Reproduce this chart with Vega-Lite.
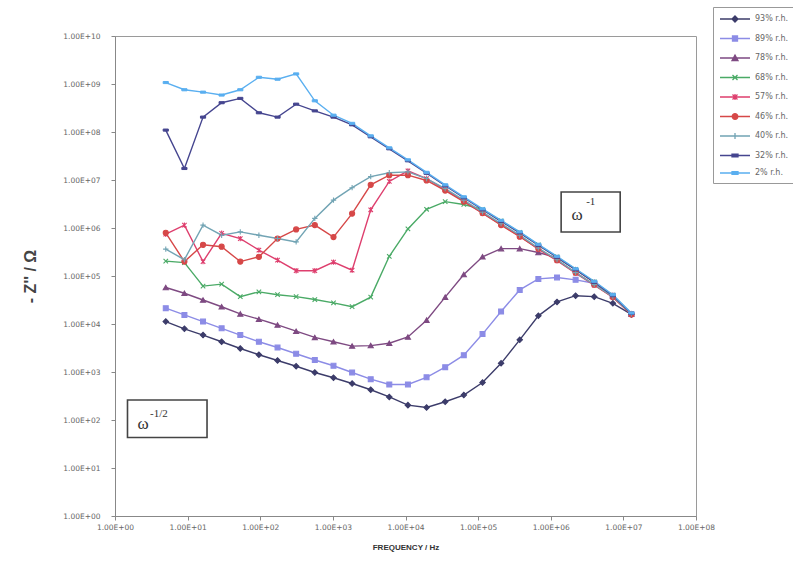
{
  "$schema": "https://vega.github.io/schema/vega-lite/v6.json",
  "width": 581,
  "height": 480,
  "autosize": "none",
  "padding": {"left": 115, "top": 36, "right": 97, "bottom": 48},
  "background": "white",
  "config": {"view": {"stroke": "#9a9a9a", "strokeWidth": 1}, "font": "Liberation Sans"},
  "datasets": {
    "series": [
      {"s":"93% r.h.","f":5,"z":11220},{"s":"93% r.h.","f":9.03,"z":7943},{"s":"93% r.h.","f":16.3,"z":5888},{"s":"93% r.h.","f":29.4,"z":4266},{"s":"93% r.h.","f":53.1,"z":3090},{"s":"93% r.h.","f":95.8,"z":2291},{"s":"93% r.h.","f":173,"z":1738},{"s":"93% r.h.","f":312,"z":1318},{"s":"93% r.h.","f":564,"z":977},{"s":"93% r.h.","f":1020,"z":759},{"s":"93% r.h.","f":1840,"z":575},{"s":"93% r.h.","f":3320,"z":427},{"s":"93% r.h.","f":5980,"z":302},{"s":"93% r.h.","f":10800,"z":204},{"s":"93% r.h.","f":19500,"z":182},{"s":"93% r.h.","f":35200,"z":240},{"s":"93% r.h.","f":63500,"z":331},{"s":"93% r.h.","f":115000,"z":603},{"s":"93% r.h.","f":207000,"z":1514},{"s":"93% r.h.","f":374000,"z":4677},{"s":"93% r.h.","f":675000,"z":14790},{"s":"93% r.h.","f":1220000,"z":28840},{"s":"93% r.h.","f":2200000,"z":38900},{"s":"93% r.h.","f":3970000,"z":37150},{"s":"93% r.h.","f":7160000,"z":26920},{"s":"93% r.h.","f":12900000,"z":15850},
      {"s":"89% r.h.","f":5,"z":21380},{"s":"89% r.h.","f":9.03,"z":15490},{"s":"89% r.h.","f":16.3,"z":11220},{"s":"89% r.h.","f":29.4,"z":8128},{"s":"89% r.h.","f":53.1,"z":5888},{"s":"89% r.h.","f":95.8,"z":4266},{"s":"89% r.h.","f":173,"z":3236},{"s":"89% r.h.","f":312,"z":2399},{"s":"89% r.h.","f":564,"z":1778},{"s":"89% r.h.","f":1020,"z":1349},{"s":"89% r.h.","f":1840,"z":977},{"s":"89% r.h.","f":3320,"z":708},{"s":"89% r.h.","f":5980,"z":550},{"s":"89% r.h.","f":10800,"z":550},{"s":"89% r.h.","f":19500,"z":776},{"s":"89% r.h.","f":35200,"z":1259},{"s":"89% r.h.","f":63500,"z":2239},{"s":"89% r.h.","f":115000,"z":6166},{"s":"89% r.h.","f":207000,"z":18200},{"s":"89% r.h.","f":374000,"z":51290},{"s":"89% r.h.","f":675000,"z":87100},{"s":"89% r.h.","f":1220000,"z":93330},{"s":"89% r.h.","f":2200000,"z":83180},{"s":"89% r.h.","f":3970000,"z":70790},{"s":"89% r.h.","f":7160000,"z":38900},{"s":"89% r.h.","f":12900000,"z":16220},
      {"s":"78% r.h.","f":5,"z":57540},{"s":"78% r.h.","f":9.03,"z":43650},{"s":"78% r.h.","f":16.3,"z":31620},{"s":"78% r.h.","f":29.4,"z":22910},{"s":"78% r.h.","f":53.1,"z":16220},{"s":"78% r.h.","f":95.8,"z":12590},{"s":"78% r.h.","f":173,"z":9550},{"s":"78% r.h.","f":312,"z":7079},{"s":"78% r.h.","f":564,"z":5248},{"s":"78% r.h.","f":1020,"z":4266},{"s":"78% r.h.","f":1840,"z":3467},{"s":"78% r.h.","f":3320,"z":3548},{"s":"78% r.h.","f":5980,"z":3981},{"s":"78% r.h.","f":10800,"z":5370},{"s":"78% r.h.","f":19500,"z":12020},{"s":"78% r.h.","f":35200,"z":36310},{"s":"78% r.h.","f":63500,"z":107200},{"s":"78% r.h.","f":115000,"z":251200},{"s":"78% r.h.","f":207000,"z":371500},{"s":"78% r.h.","f":374000,"z":371500},{"s":"78% r.h.","f":675000,"z":309000},{"s":"78% r.h.","f":1220000,"z":239900},{"s":"78% r.h.","f":2200000,"z":134900},{"s":"78% r.h.","f":3970000,"z":74130},{"s":"78% r.h.","f":7160000,"z":38900},{"s":"78% r.h.","f":12900000,"z":16220},
      {"s":"68% r.h.","f":5,"z":204200},{"s":"68% r.h.","f":9.03,"z":190500},{"s":"68% r.h.","f":16.3,"z":61660},{"s":"68% r.h.","f":29.4,"z":67610},{"s":"68% r.h.","f":53.1,"z":37150},{"s":"68% r.h.","f":95.8,"z":46770},{"s":"68% r.h.","f":173,"z":40740},{"s":"68% r.h.","f":312,"z":37150},{"s":"68% r.h.","f":564,"z":32360},{"s":"68% r.h.","f":1020,"z":27540},{"s":"68% r.h.","f":1840,"z":22910},{"s":"68% r.h.","f":3320,"z":36310},{"s":"68% r.h.","f":5980,"z":257000},{"s":"68% r.h.","f":10800,"z":955000},{"s":"68% r.h.","f":19500,"z":2455000},{"s":"68% r.h.","f":35200,"z":3548000},{"s":"68% r.h.","f":63500,"z":3090000},{"s":"68% r.h.","f":115000,"z":2455000},{"s":"68% r.h.","f":207000,"z":1413000},{"s":"68% r.h.","f":374000,"z":812800},{"s":"68% r.h.","f":675000,"z":446700},{"s":"68% r.h.","f":1220000,"z":251200},{"s":"68% r.h.","f":2200000,"z":138000},{"s":"68% r.h.","f":3970000,"z":75860},{"s":"68% r.h.","f":7160000,"z":39810},{"s":"68% r.h.","f":12900000,"z":16220},
      {"s":"57% r.h.","f":5,"z":741300},{"s":"57% r.h.","f":9.03,"z":1148000},{"s":"57% r.h.","f":16.3,"z":199500},{"s":"57% r.h.","f":29.4,"z":776200},{"s":"57% r.h.","f":53.1,"z":602600},{"s":"57% r.h.","f":95.8,"z":346700},{"s":"57% r.h.","f":173,"z":213800},{"s":"57% r.h.","f":312,"z":128800},{"s":"57% r.h.","f":564,"z":128800},{"s":"57% r.h.","f":1020,"z":195000},{"s":"57% r.h.","f":1840,"z":131800},{"s":"57% r.h.","f":3320,"z":2399000},{"s":"57% r.h.","f":5980,"z":9333000},{"s":"57% r.h.","f":10800,"z":15490000},{"s":"57% r.h.","f":19500,"z":10720000},{"s":"57% r.h.","f":35200,"z":6310000},{"s":"57% r.h.","f":63500,"z":3631000},{"s":"57% r.h.","f":115000,"z":2042000},{"s":"57% r.h.","f":207000,"z":1175000},{"s":"57% r.h.","f":374000,"z":676100},{"s":"57% r.h.","f":675000,"z":363100},{"s":"57% r.h.","f":1220000,"z":208900},{"s":"57% r.h.","f":2200000,"z":114800},{"s":"57% r.h.","f":3970000,"z":64570},{"s":"57% r.h.","f":7160000,"z":36310},{"s":"57% r.h.","f":12900000,"z":15850},
      {"s":"46% r.h.","f":5,"z":794300},{"s":"46% r.h.","f":9.03,"z":199500},{"s":"46% r.h.","f":16.3,"z":446700},{"s":"46% r.h.","f":29.4,"z":407400},{"s":"46% r.h.","f":53.1,"z":199500},{"s":"46% r.h.","f":95.8,"z":251200},{"s":"46% r.h.","f":173,"z":602600},{"s":"46% r.h.","f":312,"z":933300},{"s":"46% r.h.","f":564,"z":1148000},{"s":"46% r.h.","f":1020,"z":645700},{"s":"46% r.h.","f":1840,"z":1995000},{"s":"46% r.h.","f":3320,"z":7943000},{"s":"46% r.h.","f":5980,"z":12590000},{"s":"46% r.h.","f":10800,"z":12590000},{"s":"46% r.h.","f":19500,"z":9772000},{"s":"46% r.h.","f":35200,"z":6026000},{"s":"46% r.h.","f":63500,"z":3548000},{"s":"46% r.h.","f":115000,"z":2042000},{"s":"46% r.h.","f":207000,"z":1148000},{"s":"46% r.h.","f":374000,"z":660700},{"s":"46% r.h.","f":675000,"z":371500},{"s":"46% r.h.","f":1220000,"z":213800},{"s":"46% r.h.","f":2200000,"z":117500},{"s":"46% r.h.","f":3970000,"z":66070},{"s":"46% r.h.","f":7160000,"z":36310},{"s":"46% r.h.","f":12900000,"z":15850},
      {"s":"40% r.h.","f":5,"z":363100},{"s":"40% r.h.","f":9.03,"z":218800},{"s":"40% r.h.","f":16.3,"z":1148000},{"s":"40% r.h.","f":29.4,"z":707900},{"s":"40% r.h.","f":53.1,"z":831800},{"s":"40% r.h.","f":95.8,"z":707900},{"s":"40% r.h.","f":173,"z":602600},{"s":"40% r.h.","f":312,"z":512900},{"s":"40% r.h.","f":564,"z":1585000},{"s":"40% r.h.","f":1020,"z":3802000},{"s":"40% r.h.","f":1840,"z":6918000},{"s":"40% r.h.","f":3320,"z":11750000},{"s":"40% r.h.","f":5980,"z":14130000},{"s":"40% r.h.","f":10800,"z":14790000},{"s":"40% r.h.","f":19500,"z":10720000},{"s":"40% r.h.","f":35200,"z":6607000},{"s":"40% r.h.","f":63500,"z":3802000},{"s":"40% r.h.","f":115000,"z":2138000},{"s":"40% r.h.","f":207000,"z":1230000},{"s":"40% r.h.","f":374000,"z":707900},{"s":"40% r.h.","f":675000,"z":380200},{"s":"40% r.h.","f":1220000,"z":218800},{"s":"40% r.h.","f":2200000,"z":117500},{"s":"40% r.h.","f":3970000,"z":66070},{"s":"40% r.h.","f":7160000,"z":37150},{"s":"40% r.h.","f":12900000,"z":16220},
      {"s":"32% r.h.","f":5,"z":109600000},{"s":"32% r.h.","f":9.03,"z":17380000},{"s":"32% r.h.","f":16.3,"z":204200000},{"s":"32% r.h.","f":29.4,"z":407400000},{"s":"32% r.h.","f":53.1,"z":501200000},{"s":"32% r.h.","f":95.8,"z":251200000},{"s":"32% r.h.","f":173,"z":204200000},{"s":"32% r.h.","f":312,"z":380200000},{"s":"32% r.h.","f":564,"z":275400000},{"s":"32% r.h.","f":1020,"z":204200000},{"s":"32% r.h.","f":1840,"z":141300000},{"s":"32% r.h.","f":3320,"z":79430000},{"s":"32% r.h.","f":5980,"z":44670000},{"s":"32% r.h.","f":10800,"z":25120000},{"s":"32% r.h.","f":19500,"z":13800000},{"s":"32% r.h.","f":35200,"z":7586000},{"s":"32% r.h.","f":63500,"z":4266000},{"s":"32% r.h.","f":115000,"z":2399000},{"s":"32% r.h.","f":207000,"z":1380000},{"s":"32% r.h.","f":374000,"z":794300},{"s":"32% r.h.","f":675000,"z":436500},{"s":"32% r.h.","f":1220000,"z":245500},{"s":"32% r.h.","f":2200000,"z":134900},{"s":"32% r.h.","f":3970000,"z":74130},{"s":"32% r.h.","f":7160000,"z":38900},{"s":"32% r.h.","f":12900000,"z":16600},
      {"s":"2% r.h.","f":5,"z":1072000000},{"s":"2% r.h.","f":9.03,"z":758600000},{"s":"2% r.h.","f":16.3,"z":676100000},{"s":"2% r.h.","f":29.4,"z":588800000},{"s":"2% r.h.","f":53.1,"z":758600000},{"s":"2% r.h.","f":95.8,"z":1380000000},{"s":"2% r.h.","f":173,"z":1259000000},{"s":"2% r.h.","f":312,"z":1622000000},{"s":"2% r.h.","f":564,"z":446700000},{"s":"2% r.h.","f":1020,"z":223900000},{"s":"2% r.h.","f":1840,"z":151400000},{"s":"2% r.h.","f":3320,"z":83180000},{"s":"2% r.h.","f":5980,"z":46770000},{"s":"2% r.h.","f":10800,"z":26300000},{"s":"2% r.h.","f":19500,"z":14450000},{"s":"2% r.h.","f":35200,"z":7943000},{"s":"2% r.h.","f":63500,"z":4467000},{"s":"2% r.h.","f":115000,"z":2512000},{"s":"2% r.h.","f":207000,"z":1445000},{"s":"2% r.h.","f":374000,"z":831800},{"s":"2% r.h.","f":675000,"z":457100},{"s":"2% r.h.","f":1220000,"z":257000},{"s":"2% r.h.","f":2200000,"z":141300},{"s":"2% r.h.","f":3970000,"z":77620},{"s":"2% r.h.","f":7160000,"z":40740},{"s":"2% r.h.","f":12900000,"z":16980}
    ],
    "boxes": [
      {"f": 1390000, "f2": 9040000, "z": 5620000, "z2": 826000},
      {"f": 1.486, "f2": 18.5, "z": 261, "z2": 43.2}
    ],
    "omega": [
      {"t": "ω", "f": 2310000, "z": 1870000},
      {"t": "ω", "f": 2.43, "z": 82.6}
    ],
    "sup": [
      {"t": "-1", "f": 3070000, "z": 3480000},
      {"t": "-1/2", "f": 3.03, "z": 133}
    ]
  },
  "encoding": {
    "x": {
      "field": "f", "type": "quantitative",
      "scale": {"type": "log", "domain": [1, 100000000]},
      "title": "FREQUENCY / Hz",
      "axis": {
        "values": [1, 10, 100, 1000, 10000, 100000, 1000000, 10000000, 100000000],
        "labelExpr": "'1.00E+' + (round(log(datum.value)/LN10) < 10 ? '0' : '') + round(log(datum.value)/LN10)",
        "labelFont": "DejaVu Sans", "labelFontSize": 7.5, "labelColor": "#666",
        "labelFlush": false, "labelOverlap": false, "labelPadding": 3,
        "tickColor": "#888", "domainColor": "#888", "tickSize": 4, "grid": false,
        "titleFont": "Liberation Sans", "titleFontSize": 8, "titleFontWeight": "bold", "titleColor": "#333", "titlePadding": 13
      }
    },
    "y": {
      "field": "z", "type": "quantitative",
      "scale": {"type": "log", "domain": [1, 10000000000]},
      "title": "- Z'' / Ω",
      "axis": {
        "values": [1, 10, 100, 1000, 10000, 100000, 1000000, 10000000, 100000000, 1000000000, 10000000000],
        "labelExpr": "'1.00E+' + (round(log(datum.value)/LN10) < 10 ? '0' : '') + round(log(datum.value)/LN10)",
        "labelFont": "DejaVu Sans", "labelFontSize": 7.5, "labelColor": "#666",
        "labelFlush": false, "labelOverlap": false, "labelPadding": 11,
        "tickColor": "#888", "domainColor": "#888", "tickSize": 4, "grid": false,
        "titleFont": "Liberation Sans", "titleFontSize": 16, "titleFontWeight": "bold", "titleColor": "#444", "titlePadding": 24
      }
    }
  },
  "layer": [
    {
      "data": {"name": "series"},
      "layer": [
        {
          "mark": {"type": "line", "strokeWidth": 1.4},
          "encoding": {
            "color": {
              "field": "s", "type": "nominal",
              "scale": {
                "domain": ["93% r.h.", "89% r.h.", "78% r.h.", "68% r.h.", "57% r.h.", "46% r.h.", "40% r.h.", "32% r.h.", "2% r.h."],
                "range": ["#3c3c6a", "#8c8ce6", "#7e4a82", "#4aaa66", "#de3f6e", "#d64848", "#72a4b4", "#45458f", "#5aaff0"]
              },
              "legend": {
                "orient": "none", "legendX": 598, "legendY": -29, "title": null,
                "padding": 6, "strokeColor": "#999", "fillColor": "white",
                "labelFont": "DejaVu Sans", "labelFontSize": 8, "labelColor": "#666",
                "symbolSize": 100, "rowPadding": 7.5, "labelOffset": 24, "symbolStrokeWidth": 1.3,
                "encode": {
                  "symbols": {
                    "update": {
                      "shape": {"signal": "datum.value == '93% r.h.' ? 'M-1,0L5,0M2,-0.6L2.6,0L2,0.6L1.4,0Z' : datum.value == '89% r.h.' ? 'M-1,0L5,0M1.5,-0.5L2.5,-0.5L2.5,0.5L1.5,0.5Z' : datum.value == '78% r.h.' ? 'M-1,0L5,0M2,-0.6L2.6,0.5L1.4,0.5Z' : datum.value == '68% r.h.' ? 'M-1,0L5,0M1.5,-0.5L2.5,0.5M1.5,0.5L2.5,-0.5' : datum.value == '57% r.h.' ? 'M-1,0L5,0M1.5,-0.5L2.5,0.5M1.5,0.5L2.5,-0.5M2,-0.6L2,0.6' : datum.value == '46% r.h.' ? 'M-1,0L5,0M1.45,0A0.55,0.55,0,1,0,2.55,0A0.55,0.55,0,1,0,1.45,0Z' : datum.value == '40% r.h.' ? 'M-1,0L5,0M1.4,0L2.6,0M2,-0.6L2,0.6' : 'M-1,0L5,0M1.4,-0.25L2.6,-0.25L2.6,0.25L1.4,0.25Z'"},
                      "fill": {"signal": "scale('color', datum.value)"},
                      "stroke": {"signal": "scale('color', datum.value)"},
                      "opacity": {"value": 1}
                    }
                  }
                }
              }
            }
          }
        },
        {
          "encoding": {
            "stroke": {
              "field": "s", "type": "nominal", "legend": null,
              "scale": {
                "domain": ["93% r.h.", "89% r.h.", "78% r.h.", "68% r.h.", "57% r.h.", "46% r.h.", "40% r.h.", "32% r.h.", "2% r.h."],
                "range": ["#3c3c6a", "#8c8ce6", "#7e4a82", "#4aaa66", "#de3f6e", "#d64848", "#72a4b4", "#45458f", "#5aaff0"]
              }
            },
            "fill": {
              "field": "s", "type": "nominal", "legend": null,
              "scale": {
                "domain": ["93% r.h.", "89% r.h.", "78% r.h.", "68% r.h.", "57% r.h.", "46% r.h.", "40% r.h.", "32% r.h.", "2% r.h."],
                "range": ["#3c3c6a", "#8c8ce6", "#7e4a82", "#4aaa66", "#de3f6e", "#d64848", "#72a4b4", "#45458f", "#5aaff0"]
              }
            }
          },
          "layer": [
            {"transform": [{"filter": {"field": "s", "oneOf": ["93% r.h."]}}], "mark": {"type": "point", "shape": "diamond", "filled": false, "size": 30, "strokeWidth": 1.1, "opacity": 1}},
            {"transform": [{"filter": {"field": "s", "oneOf": ["89% r.h."]}}], "mark": {"type": "point", "shape": "square", "filled": false, "size": 24, "strokeWidth": 1.1, "opacity": 1}},
            {"transform": [{"filter": {"field": "s", "oneOf": ["78% r.h."]}}], "mark": {"type": "point", "shape": "triangle-up", "filled": false, "size": 26, "strokeWidth": 1.1, "opacity": 1}},
            {"transform": [{"filter": {"field": "s", "oneOf": ["68% r.h."]}}], "mark": {"type": "point", "shape": "M-1,-1L1,1M-1,1L1,-1", "filled": false, "size": 20, "strokeWidth": 1.1, "opacity": 1}},
            {"transform": [{"filter": {"field": "s", "oneOf": ["57% r.h."]}}], "mark": {"type": "point", "shape": "M-1,-1L1,1M-1,1L1,-1M0,-1.2L0,1.2", "filled": false, "size": 20, "strokeWidth": 1.1, "opacity": 1}},
            {"transform": [{"filter": {"field": "s", "oneOf": ["46% r.h."]}}], "mark": {"type": "point", "shape": "circle", "filled": false, "size": 26, "strokeWidth": 1.1, "opacity": 1}},
            {"transform": [{"filter": {"field": "s", "oneOf": ["40% r.h."]}}], "mark": {"type": "point", "shape": "M-1.2,0L1.2,0M0,-1.2L0,1.2", "filled": false, "size": 20, "strokeWidth": 1.1, "opacity": 1}},
            {"transform": [{"filter": {"field": "s", "oneOf": ["32% r.h.", "2% r.h."]}}], "mark": {"type": "point", "shape": "M-1.1,-0.45L1.1,-0.45L1.1,0.45L-1.1,0.45Z", "filled": false, "size": 22, "strokeWidth": 1, "opacity": 1}}
          ]
        }
      ]
    },
    {
      "data": {"name": "boxes"},
      "mark": {"type": "rect", "fill": "white", "stroke": "#444", "strokeWidth": 1.6},
      "encoding": {"x2": {"field": "f2"}, "y2": {"field": "z2"}}
    },
    {
      "data": {"name": "omega"},
      "mark": {"type": "text", "font": "Liberation Serif", "fontSize": 17, "color": "#333"},
      "encoding": {"text": {"field": "t"}}
    },
    {
      "data": {"name": "sup"},
      "mark": {"type": "text", "font": "Liberation Serif", "fontSize": 11, "align": "left", "color": "#333"},
      "encoding": {"text": {"field": "t"}}
    }
  ]
}
